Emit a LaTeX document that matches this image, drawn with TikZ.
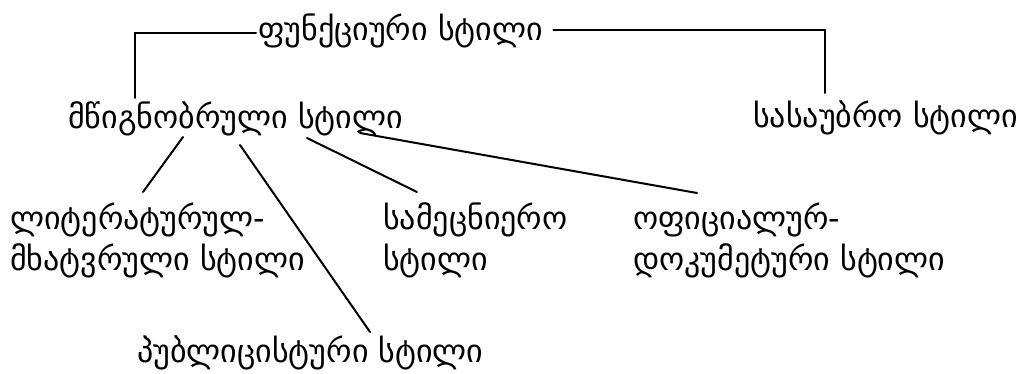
\documentclass[tikz,border=0pt]{standalone}
\usepackage{fontspec}
\newfontfamily\geo{DejaVu Sans}
\usetikzlibrary{calc}
\begin{document}
\begin{tikzpicture}[x=1pt,y=-1pt,
  lbl/.style={font=\geo\fontsize{32}{41}\selectfont, anchor=base west, inner sep=0pt, align=left},
  conn/.style={line width=2pt, line cap=round}]
\useasboundingbox (0,0) rectangle (1021,373);
\node[lbl] (title) at (258,40) {ფუნქციური სტილი};
\node[lbl] (mts) at (68,128) {მწიგნობრული სტილი};
\node[lbl] (sas) at (753,127) {სასაუბრო სტილი};
\node[lbl] (lit) at (10,270) {ლიტერატურულ-\\მხატვრული სტილი};
\node[lbl] (sam) at (383,270) {სამეცნიერო\\სტილი};
\node[lbl] (ofi) at (633,270) {ოფიციალურ-\\დოკუმეტური სტილი};
\node[lbl] (pub) at (137,362) {პუბლიცისტური სტილი};
\coordinate (lt) at ($(mts.base west)+(67,-30)$);
\coordinate (rt) at ($(sas.base west)+(72,-34)$);
\draw[conn] ($(title.base west)+(-2,-7)$) -| (lt);
\draw[conn] ($(title.base east)+(10,-10)$) -| (rt);
\draw[conn] ($(mts.base west)+(115,9)$) -- ($(lit.base west)+(133,-78)$);
\draw[conn] ($(mts.base west)+(172,17)$) -- ($(pub.base west)+(233,-30)$);
\draw[conn] ($(mts.base west)+(239,10)$) -- ($(sam.base west)+(34,-78)$);
\draw[conn] ($(mts.base west)+(292,5)$) -- ($(ofi.base west)+(64,-77)$);
\end{tikzpicture}
\end{document}
